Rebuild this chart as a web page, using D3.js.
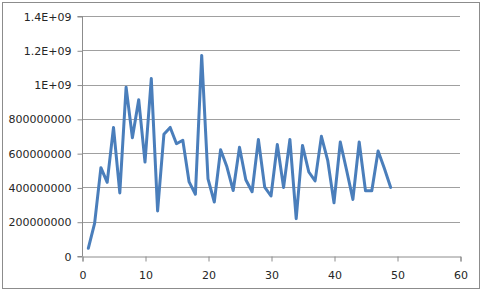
<!DOCTYPE html>
<html>
<head>
<meta charset="utf-8">
<script src="https://cdn.jsdelivr.net/npm/d3@7"></script>
<style>
  body { margin: 0; background: #fff; }
  svg text { font-family: "DejaVu Sans", sans-serif; font-size: 11px; fill: #262626; }
</style>
</head>
<body>
<script>
// Data
const xValues = d3.range(1, 50);
const yValues = [
  45e6, 190e6, 515e6, 430e6, 750e6, 368e6, 985e6, 690e6, 912e6, 548e6,
  1035e6, 263e6, 710e6, 750e6, 655e6, 675e6, 432e6, 360e6, 1170e6, 450e6,
  315e6, 620e6, 520e6, 382e6, 634e6, 445e6, 375e6, 680e6, 402e6, 350e6,
  650e6, 400e6, 680e6, 218e6, 645e6, 490e6, 438e6, 698e6, 558e6, 310e6,
  665e6, 500e6, 330e6, 665e6, 380e6, 380e6, 613e6, 510e6, 400e6
];
const xTicks = [0, 10, 20, 30, 40, 50, 60];
const yTicks = [0, 2e8, 4e8, 6e8, 8e8, 1e9, 1.2e9, 1.4e9];
const yTickLabels = ["0", "200000000", "400000000", "600000000", "800000000", "1E+09", "1.2E+09", "1.4E+09"];

const W = 484, H = 292;
const plot = { left: 82, right: 460, top: 16, bottom: 256 };

const svg = d3.select("body").append("svg")
  .attr("width", W)
  .attr("height", H);

// outer chart border
svg.append("rect")
  .attr("x", 2.5).attr("y", 2.5)
  .attr("width", 477).attr("height", 286)
  .attr("fill", "#fff")
  .attr("stroke", "#8c8c8c");

const x = d3.scaleLinear().domain([0, 60]).range([plot.left, plot.right]);
const y = d3.scaleLinear().domain([0, 1.4e9]).range([plot.bottom, plot.top]);

// gridlines
svg.append("g")
  .selectAll("line")
  .data(yTicks.slice(1))
  .join("line")
  .attr("x1", plot.left).attr("x2", plot.right)
  .attr("y1", d => Math.round(y(d)) + 0.5)
  .attr("y2", d => Math.round(y(d)) + 0.5)
  .attr("stroke", "#a0a0a0");

// y axis
const yAxis = svg.append("g")
  .attr("transform", `translate(${plot.left + 0.5},0.5)`)
  .call(d3.axisLeft(y).tickValues(yTicks)
    .tickFormat((d, i) => yTickLabels[i]).tickSize(5).tickPadding(6));

// x axis
const xAxis = svg.append("g")
  .attr("transform", `translate(0.5,${plot.bottom + 0.5})`)
  .call(d3.axisBottom(x).tickValues(xTicks).tickSize(5).tickPadding(10));

[yAxis, xAxis].forEach(g => {
  g.select(".domain").attr("stroke", "#8c8c8c");
  g.selectAll(".tick line").attr("stroke", "#8c8c8c");
  g.selectAll(".tick text").attr("fill", "#262626")
    .style("font-family", "'DejaVu Sans', sans-serif").style("font-size", "11px");
});
yAxis.select(".domain").attr("d", `M-5,${y(1.4e9)}H0V${y(0)}H-5`);

// line
const line = d3.line()
  .x((d, i) => x(xValues[i]))
  .y(d => y(d));

svg.append("path")
  .datum(yValues)
  .attr("d", line)
  .attr("fill", "none")
  .attr("stroke", "#4a7ebb")
  .attr("stroke-width", 3)
  .attr("stroke-linejoin", "round")
  .attr("stroke-linecap", "round");
</script>
</body>
</html>
